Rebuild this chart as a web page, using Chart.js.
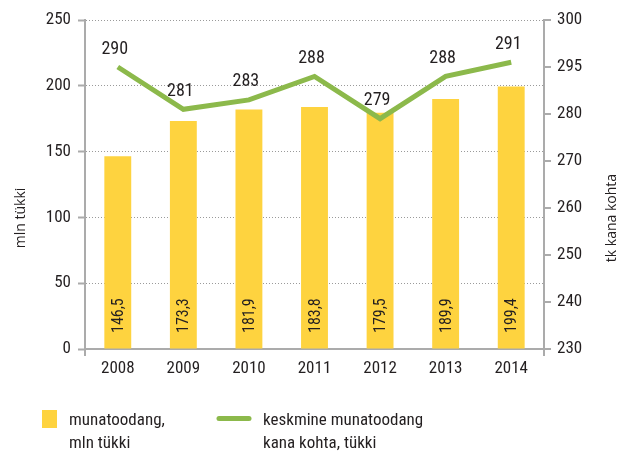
<!DOCTYPE html>
<html>
<head>
<meta charset="utf-8">
<script src="https://cdn.jsdelivr.net/npm/chart.js@4"></script>
<style>
  html, body { margin: 0; padding: 0; background: #ffffff; }
  #wrap { width: 619px; height: 454px; position: relative; }
</style>
</head>
<body>
<div id="wrap"><canvas id="chart" width="619" height="454"></canvas></div>
<script>
// Egg production in Estonia, 2008–2014
const years = ['2008', '2009', '2010', '2011', '2012', '2013', '2014'];
const production = [146.5, 173.3, 181.9, 183.8, 179.5, 189.9, 199.4];   // mln eggs
const perHen = [290, 281, 283, 288, 279, 288, 291];                      // eggs per hen
const rightTickValues = [230, 240, 250, 260, 270, 280, 290, 300];
const rightTickLabels = ['230', '240', '250', '260', '270', '280', '295', '300'];
const seriesNames = [['munatoodang,', 'mln tükki'], ['keskmine munatoodang', 'kana kohta, tükki']];
const axisTitles = ['mln tükki', 'tk kana kohta'];

const YELLOW = '#FED33F';
const GREEN = '#8CB94B';
const TEXT = '#231F20';
const AXIS = '#ABABAB';
const COND = "'Roboto Condensed', 'Liberation Sans Narrow', 'DejaVu Sans Condensed', Roboto, sans-serif";
const HUMAN = "'Open Sans', 'Noto Sans', sans-serif";

const fmt = v => v.toFixed(1).replace('.', ',');

// Value labels, axis titles and the legend below the plot
const decorations = {
  id: 'decorations',
  afterDatasetsDraw(chart) {
    const ctx = chart.ctx;
    const area = chart.chartArea;
    ctx.save();
    ctx.fillStyle = TEXT;

    // bar values, rotated inside the bars
    ctx.font = '16px ' + COND;
    chart.getDatasetMeta(0).data.forEach((bar, i) => {
      ctx.save();
      ctx.translate(bar.x, area.bottom - 16);
      ctx.rotate(-Math.PI / 2);
      ctx.textAlign = 'left';
      ctx.textBaseline = 'middle';
      ctx.fillText(fmt(production[i]), 0, 1);
      ctx.restore();
    });

    // line values above the points
    ctx.font = '18px ' + COND;
    ctx.textAlign = 'center';
    ctx.textBaseline = 'middle';
    chart.getDatasetMeta(1).data.forEach((pt, i) => {
      ctx.fillText(String(perHen[i]), pt.x - 3, pt.y - 18);
    });

    // axis titles, both reading bottom to top
    ctx.font = '14px ' + HUMAN;
    [[21, axisTitles[0]], [612, axisTitles[1]]].forEach(([x, t]) => {
      ctx.save();
      ctx.translate(x, 218);
      ctx.rotate(-Math.PI / 2);
      ctx.textAlign = 'center';
      ctx.textBaseline = 'middle';
      ctx.fillText(t, 0, 0);
      ctx.restore();
    });

    // legend
    ctx.fillStyle = YELLOW;
    ctx.fillRect(42, 410, 15, 18);
    ctx.strokeStyle = GREEN;
    ctx.lineWidth = 5;
    ctx.lineCap = 'round';
    ctx.beginPath();
    ctx.moveTo(219, 418.5);
    ctx.lineTo(249, 418.5);
    ctx.stroke();

    ctx.fillStyle = TEXT;
    ctx.font = '17px ' + COND;
    ctx.textAlign = 'left';
    ctx.textBaseline = 'middle';
    seriesNames[0].forEach((t, k) => ctx.fillText(t, 69, 421 + k * 23));
    seriesNames[1].forEach((t, k) => ctx.fillText(t, 263, 421 + k * 23));
    ctx.restore();
  }
};

new Chart(document.getElementById('chart'), {
  type: 'bar',
  data: {
    labels: years,
    datasets: [
      {
        label: seriesNames[0].join(' '),
        data: production,
        backgroundColor: YELLOW,
        borderWidth: 0,
        categoryPercentage: 1,
        barPercentage: 0.41,
        yAxisID: 'y',
        order: 2
      },
      {
        type: 'line',
        label: seriesNames[1].join(' '),
        data: perHen,
        borderColor: GREEN,
        borderWidth: 5,
        borderJoinStyle: 'miter',
        borderCapStyle: 'butt',
        pointRadius: 0,
        pointHoverRadius: 0,
        tension: 0,
        fill: false,
        yAxisID: 'y2',
        order: 1
      }
    ]
  },
  options: {
    responsive: false,
    animation: false,
    devicePixelRatio: 1,
    layout: { padding: { top: 20, left: 0, right: 0, bottom: 0 } },
    plugins: {
      legend: { display: false },
      tooltip: { enabled: false }
    },
    scales: {
      x: {
        afterFit(scale) { scale.height = 105; },
        grid: {
          display: true,
          offset: true,
          drawOnChartArea: false,
          drawTicks: true,
          tickLength: 7,
          lineWidth: 2,
          color: c => (c.index === 0 || c.tick === undefined) ? AXIS : 'rgba(0,0,0,0)'
        },
        border: { display: true, color: AXIS, width: 2 },
        ticks: {
          color: TEXT,
          font: { family: COND, size: 17 },
          padding: 3,
          maxRotation: 0
        }
      },
      y: {
        position: 'left',
        min: 0,
        max: 250,
        afterFit(scale) { scale.width = 85; },
        ticks: {
          stepSize: 50,
          color: TEXT,
          font: { family: COND, size: 17 },
          padding: 7
        },
        grid: {
          color: '#9A9A9A',
          lineWidth: 1,
          drawTicks: true,
          tickLength: 7,
          tickColor: AXIS,
          tickWidth: 2,
          tickBorderDash: []
        },
        border: { display: true, color: AXIS, width: 2, dash: [1, 2] }
      },
      y2: {
        position: 'right',
        min: 230,
        max: 300,
        afterFit(scale) { scale.width = 75; },
        afterBuildTicks(scale) { scale.ticks = rightTickValues.map(v => ({ value: v })); },
        ticks: {
          color: TEXT,
          font: { family: COND, size: 17 },
          padding: 6,
          callback: (v) => rightTickLabels[rightTickValues.indexOf(v)]
        },
        grid: {
          drawOnChartArea: false,
          drawTicks: true,
          tickLength: 7,
          color: AXIS,
          lineWidth: 2
        },
        border: { display: true, color: AXIS, width: 2 }
      }
    }
  },
  plugins: [decorations]
});
</script>
</body>
</html>
